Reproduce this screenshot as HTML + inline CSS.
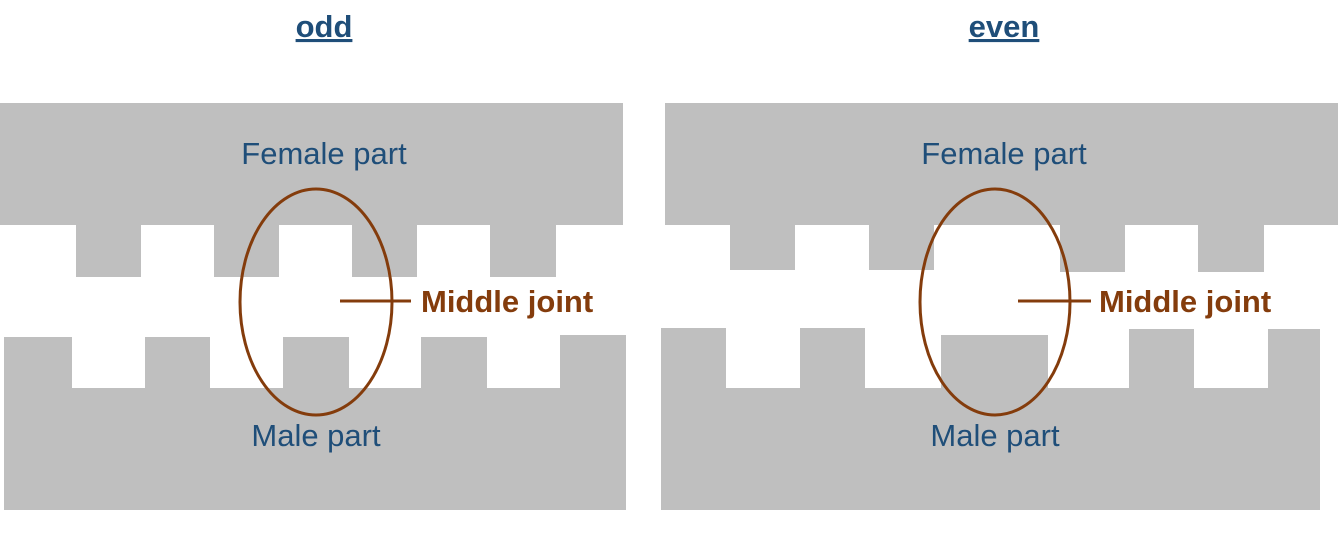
<!DOCTYPE html>
<html><head><meta charset="utf-8"><style>
html,body{margin:0;padding:0;background:#fff;width:1338px;height:534px;overflow:hidden}
text{font-family:"Liberation Sans",Arial,sans-serif}
</style></head><body>
<svg width="1338" height="534" viewBox="0 0 1338 534">
<g fill="#bfbfbf">
 <g>
  <rect x="0" y="103" width="623" height="122"/>
  <rect x="76" y="224" width="65" height="53"/>
  <rect x="214" y="224" width="65" height="53"/>
  <rect x="352" y="224" width="65" height="53"/>
  <rect x="490" y="224" width="66" height="53"/>
 </g>
 <g>
  <rect x="4" y="388" width="622" height="122"/>
  <rect x="4" y="337" width="68" height="52"/>
  <rect x="145" y="337" width="65" height="52"/>
  <rect x="283" y="337" width="66" height="52"/>
  <rect x="421" y="337" width="66" height="52"/>
  <rect x="560" y="335" width="66" height="54"/>
 </g>
 <g>
  <rect x="665" y="103" width="673" height="122"/>
  <rect x="730" y="224" width="65" height="46"/>
  <rect x="869" y="224" width="65" height="46"/>
  <rect x="1060" y="224" width="65" height="48"/>
  <rect x="1198" y="224" width="66" height="48"/>
 </g>
 <g>
  <rect x="661" y="388" width="659" height="122"/>
  <rect x="661" y="328" width="65" height="61"/>
  <rect x="800" y="328" width="65" height="61"/>
  <rect x="941" y="335" width="107" height="54"/>
  <rect x="1129" y="329" width="65" height="60"/>
  <rect x="1268" y="329" width="52" height="60"/>
 </g>
</g>
<g fill="#1f4e79" font-size="31" text-anchor="middle">
 <text x="324" y="37" font-weight="bold" text-decoration="underline">odd</text>
 <text x="1004" y="37" font-weight="bold" text-decoration="underline">even</text>
 <text x="324" y="164">Female part</text>
 <text x="316" y="446">Male part</text>
 <text x="1004" y="164">Female part</text>
 <text x="995" y="446">Male part</text>
</g>
<g stroke="#843c0c" stroke-width="3" fill="none">
 <ellipse cx="316" cy="302" rx="76" ry="113"/>
 <line x1="340" y1="301" x2="411" y2="301"/>
 <ellipse cx="995" cy="302" rx="75" ry="113"/>
 <line x1="1018" y1="301" x2="1091" y2="301"/>
</g>
<g fill="#843c0c" font-size="31" font-weight="bold">
 <text x="421" y="312">Middle joint</text>
 <text x="1099" y="312">Middle joint</text>
</g>
</svg>
</body></html>
